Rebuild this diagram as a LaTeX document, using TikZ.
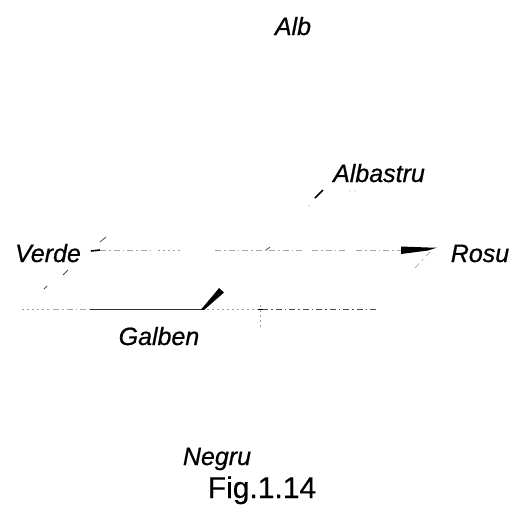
\documentclass[tikz,border=0pt]{standalone}
\usepackage{fontspec}
\setmainfont{Liberation Sans}
\newfontface\labelface{Liberation Sans Italic}[FakeBold=0.7]
\newfontface\captionface{Liberation Sans}[FakeBold=0.4]
\begin{document}
\begin{tikzpicture}[x=1pt,y=-1pt,
  lbl/.style={font=\fontsize{25}{28}\labelface, inner sep=0pt, anchor=base},
  figcaption/.style={font=\fontsize{30}{34}\captionface, inner sep=0pt, anchor=base},
  faint/.style={draw=gray!70, line width=0.7pt, dash pattern=on 6pt off 3pt on 1.5pt off 3pt},
  dotty/.style={draw=gray!75, line width=0.7pt, dash pattern=on 1.5pt off 3.5pt},
  solidax/.style={draw=black!80, line width=0.9pt},
  tickmark/.style={draw=black!70, line width=0.8pt},
  wedge/.style={fill=black, draw=none}]
\useasboundingbox (0,0) rectangle (511,509);

% labels
\node[lbl] (alb) at (293,35) {Alb};
\node[lbl] (albastru) at (379,182) {Albastru};
\node[lbl] (verde) at (48,262) {Verde};
\node[lbl] (rosu) at (480,262) {Rosu};
\node[lbl] (galben) at (159,345) {Galben};
\node[lbl] (negru) at (217,465) {Negru};
\node[figcaption] (fig) at (262,498) {Fig.1.14};

% red--green axis (upper horizontal line)
\coordinate (g0) at (91,251);
\coordinate (g1) at (100,250);
\coordinate (r0) at (402,250);
\draw[black, line width=1.6pt] (g0) -- (g1);
\draw[faint] (g1) -- (150,250);
\draw[dotty] (158,250) -- (180,250);
\draw[faint] (215,250) -- (302,250);
\draw[faint] (312,250) -- (348,250);
\draw[faint] (356,250) -- (r0);
\fill[wedge] (401,246.5) -- (428,247.5) -- (437,247.5) -- (428,250.5) -- (401,254) -- cycle;
\draw[tickmark] (266,250) -- (270,247);

% slashes at the red end
\coordinate (s0) at (430,252);
\coordinate (s1) at (413,270);
\draw[draw=gray!70, line width=0.7pt, dash pattern=on 6pt off 4pt on 2pt off 4pt] (s0) -- (s1);

% oblique axis through the green label
\coordinate (d0) at (106,237);
\coordinate (d1) at (44,290);
\draw[tickmark] (d0) -- (100,242);
\draw[tickmark] (68,270) -- (63,275);
\draw[tickmark] (47,286) -- (44,289);

% blue mark
\coordinate (b0) at (323,190);
\coordinate (b1) at (315,198);
\draw[black, line width=1.5pt] (b0) -- (b1);
\fill[gray] (309,206) circle (0.7pt);
\fill[gray!60] (350,191) circle (0.6pt);
\fill[gray!60] (355,191) circle (0.6pt);

% lower horizontal line (yellow axis)
\coordinate (y0) at (22,309);
\coordinate (y1) at (377,309);
\draw[dotty] (y0) -- (52,309);
\draw[faint] (53,309) -- (90,309);
\draw[solidax] (90,309) -- (202,309);
\draw[dotty] (202,309) -- (258,309);
\draw[faint, draw=black!70] (262,309) -- (y1);
\fill[wedge] (201,309.5) -- (215,293) -- (219,288) -- (224,292.5) -- (204,310) -- cycle;
\draw[dotty] (260,305) -- (260,327);
\draw[black, line width=1pt] (258,309) -- (263,309);
\end{tikzpicture}
\end{document}
